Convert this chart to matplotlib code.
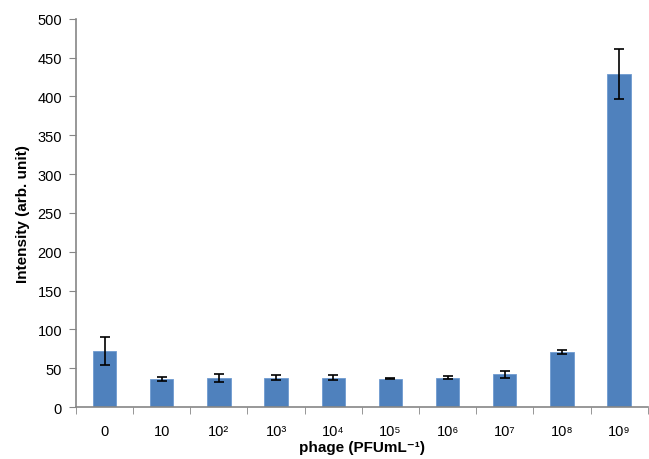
import matplotlib
matplotlib.use("Agg")
import matplotlib.pyplot as plt
import numpy as np

plt.rcParams["font.family"] = ["Liberation Sans", "DejaVu Sans"]

labels = ["0", "10", "10²", "10³", "10⁴", "10⁵", "10⁶", "10⁷", "10⁸", "10⁹"]
intensity = [72, 36, 37.5, 38, 38, 36.5, 38, 42, 71, 429]
err = [18, 3, 5, 3, 3.5, 0.8, 2.5, 5, 3, 32]

BLUE = "#4F81BD"
AXIS = "#868686"

fig = plt.figure(figsize=(6.49, 4.6), dpi=100)
ax = fig.add_axes([0.117, 0.113, 0.881, 0.844])
x = np.arange(len(labels))
ax.bar(x, intensity, width=0.41, color=BLUE, edgecolor="#6F9AD0", linewidth=0.6,
       yerr=err, capsize=3.5, error_kw=dict(ecolor="black", elinewidth=1.2, capthick=1.2))

ax.set_xlim(-0.5, len(labels) - 0.5)
ax.set_ylim(0, 500)
ax.set_yticks(range(0, 501, 50))
ax.set_xticks(x)
ax.set_xticklabels(labels)
ax.set_xticks(np.arange(-0.5, len(labels), 1), minor=True)
ax.tick_params(axis="x", which="major", length=0, pad=12, labelsize=10.5)
ax.tick_params(axis="x", which="minor", length=5, color=AXIS, direction="out")
ax.tick_params(axis="y", length=5, color=AXIS, labelsize=10.5, pad=5)

for s in ["top", "right"]:
    ax.spines[s].set_visible(False)
for s in ["left", "bottom"]:
    ax.spines[s].set_color(AXIS)
    ax.spines[s].set_linewidth(1.2)

ax.set_ylabel("Intensity (arb. unit)", fontsize=11, fontweight="bold", labelpad=5)
ax.set_xlabel("phage (PFUmL⁻¹)", fontsize=11, fontweight="bold", labelpad=2)

fig.savefig("out.png", dpi=100)
